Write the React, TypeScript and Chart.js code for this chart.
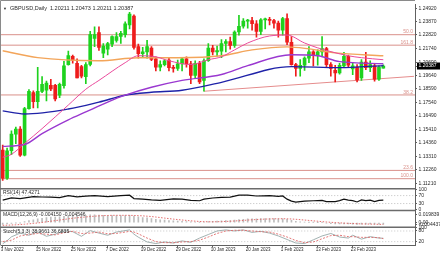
import React, { useEffect, useRef } from 'react';
import { Chart, registerables } from 'chart.js';

Chart.register(...registerables);

// ---------- data ----------
const DATES = ['3 Nov 2022','4 Nov 2022','7 Nov 2022','8 Nov 2022','9 Nov 2022','10 Nov 2022','11 Nov 2022','14 Nov 2022','15 Nov 2022','16 Nov 2022','17 Nov 2022','18 Nov 2022','21 Nov 2022','22 Nov 2022','23 Nov 2022','24 Nov 2022','25 Nov 2022','28 Nov 2022','29 Nov 2022','30 Nov 2022','1 Dec 2022','2 Dec 2022','5 Dec 2022','6 Dec 2022','7 Dec 2022','8 Dec 2022','9 Dec 2022','12 Dec 2022','13 Dec 2022','14 Dec 2022','15 Dec 2022','16 Dec 2022','19 Dec 2022','20 Dec 2022','21 Dec 2022','22 Dec 2022','23 Dec 2022','26 Dec 2022','27 Dec 2022','28 Dec 2022','29 Dec 2022','30 Dec 2022','2 Jan 2023','3 Jan 2023','4 Jan 2023','5 Jan 2023','6 Jan 2023','9 Jan 2023','10 Jan 2023','11 Jan 2023','12 Jan 2023','13 Jan 2023','16 Jan 2023','17 Jan 2023','18 Jan 2023','19 Jan 2023','20 Jan 2023','23 Jan 2023','24 Jan 2023','25 Jan 2023','26 Jan 2023','27 Jan 2023','30 Jan 2023','31 Jan 2023','1 Feb 2023','2 Feb 2023','3 Feb 2023','6 Feb 2023','7 Feb 2023','8 Feb 2023','9 Feb 2023','10 Feb 2023','13 Feb 2023','14 Feb 2023','15 Feb 2023','16 Feb 2023','17 Feb 2023','20 Feb 2023','21 Feb 2023','22 Feb 2023','23 Feb 2023','24 Feb 2023','27 Feb 2023','28 Feb 2023','1 Mar 2023','2 Mar 2023','3 Mar 2023','6 Mar 2023'];

const OPEN = [1.1380,1.1160,1.1375,1.1505,1.1545,1.1340,1.1705,1.1830,1.1760,1.1840,
  1.1850,1.1888,1.1888,1.1810,1.1885,1.2050,1.2115,1.2060,1.2035,1.1955,
  1.2052,1.2255,1.2300,1.2140,1.2170,1.2210,1.2240,1.2270,1.2285,1.2360,
  1.2430,1.2190,1.2135,1.2150,1.2180,1.2095,1.2030,1.2050,1.2085,1.2025,
  1.2020,1.2055,1.2095,1.2055,1.1965,1.2060,1.1925,1.2080,1.2180,1.2150,
  1.2155,1.2215,1.2230,1.2200,1.2305,1.2350,1.2390,1.2395,1.2370,1.2310,
  1.2400,1.2405,1.2395,1.2375,1.2320,1.2410,1.2225,1.2050,1.2020,1.2045,
  1.2100,1.2150,1.2120,1.2150,1.2175,1.2050,1.2005,1.1985,1.2040,1.2115,
  1.2015,1.2030,1.1945,1.2070,1.2025,1.2040,1.1935,1.20211];
const HIGH = [1.1420,1.1395,1.1530,1.1560,1.1565,1.1715,1.1855,1.1845,1.2028,1.1955,
  1.1920,1.1935,1.1895,1.1905,1.2075,1.2155,1.2125,1.2095,1.2045,1.2065,
  1.2310,1.2345,1.2345,1.2215,1.2225,1.2275,1.2300,1.2310,1.2385,1.2460,
  1.2440,1.2210,1.2185,1.2240,1.2190,1.2110,1.2080,1.2090,1.2100,1.2045,
  1.2085,1.2105,1.2110,1.2075,1.2080,1.2075,1.2095,1.2215,1.2200,1.2195,
  1.2245,1.2245,1.2265,1.2315,1.2435,1.2410,1.2405,1.2420,1.2395,1.2410,
  1.2415,1.2420,1.2405,1.2390,1.2420,1.2448,1.2270,1.2060,1.2090,1.2110,
  1.2190,1.2160,1.2165,1.2270,1.2185,1.2065,1.2045,1.2060,1.2145,1.2125,
  1.2065,1.2050,1.2090,1.2145,1.2080,1.2060,1.2040,1.20473];
const LOW = [1.1142,1.1150,1.1345,1.1430,1.1330,1.1335,1.1700,1.1710,1.1710,1.1830,
  1.1765,1.1845,1.1765,1.1790,1.1865,1.2045,1.2060,1.1945,1.1945,1.1900,
  1.2040,1.2190,1.2160,1.2105,1.2125,1.2190,1.2225,1.2215,1.2265,1.2330,
  1.2170,1.2100,1.2110,1.2100,1.2080,1.2000,1.2000,1.2040,1.2000,1.1990,
  1.2005,1.2000,1.2030,1.1900,1.1940,1.1900,1.1841,1.2075,1.2125,1.2115,
  1.2105,1.2150,1.2170,1.2185,1.2280,1.2335,1.2335,1.2320,1.2265,1.2285,
  1.2330,1.2360,1.2335,1.2265,1.2280,1.2205,1.2045,1.1960,1.1960,1.2005,
  1.2065,1.2040,1.2045,1.2120,1.2030,1.1960,1.1915,1.1975,1.2030,1.2030,
  1.1970,1.1915,1.1925,1.2010,1.1995,1.1920,1.1925,1.20211];
const CLOSE = [1.1160,1.1375,1.1505,1.1545,1.1340,1.1705,1.1840,1.1760,1.1840,1.1895,
  1.1905,1.1860,1.1780,1.1895,1.2040,1.2120,1.2085,1.1945,1.1960,1.2050,
  1.2285,1.2285,1.2185,1.2195,1.2215,1.2270,1.2270,1.2295,1.2370,1.2445,
  1.2185,1.2135,1.2150,1.2190,1.2090,1.2030,1.2050,1.2080,1.2025,1.2020,
  1.2055,1.2095,1.2055,1.1965,1.2060,1.1915,1.2080,1.2180,1.2150,1.2160,
  1.2215,1.2230,1.2200,1.2305,1.2350,1.2390,1.2395,1.2370,1.2310,1.2400,
  1.2405,1.2395,1.2375,1.2320,1.2410,1.2225,1.2050,1.2020,1.2045,1.2100,
  1.2150,1.2120,1.2150,1.2175,1.2050,1.2020,1.1985,1.2045,1.2115,1.2045,
  1.2040,1.1930,1.2070,1.2025,1.2050,1.1935,1.2030,1.20387];

const LAST_PRICE = 1.20387;
const PRICE_TICKS = [1.2492,1.2387,1.2282,1.2174,1.2069,1.1964,1.1859,1.1754,1.1649,1.1541,1.1436,1.1331,1.1226,1.1121];
const DATE_TICKS = [0,8,16,24,32,40,48,56,64,72,80];

// moving averages: [bar index, price]
const MA_PINK = [[0,1.1324],[2,1.1347],[5,1.1432],[9,1.1548],[15,1.1733],[19,1.1857],[22,1.1926],[28,1.2065],[31,1.2119],[35,1.2111],[38,1.2080],[43,1.2050],[47,1.2088],[50,1.2111],[53,1.2165],[56,1.2219],[61,1.2274],[65,1.2281],[69,1.2219],[72,1.2181],[79,1.2119],[82,1.2104],[87,1.2088]];
const MA_PURPLE = [[0,1.1409],[5,1.1424],[9,1.1509],[15,1.1617],[19,1.1679],[24,1.1756],[28,1.1810],[34,1.1872],[41,1.1926],[50,1.1972],[56,1.2042],[66,1.2127],[72,1.2119],[77,1.2073],[87,1.2057]];
const MA_BLUE = [[0,1.1687],[5,1.1663],[15,1.1702],[22,1.1756],[28,1.1810],[34,1.1833],[41,1.1849],[50,1.1911],[66,1.2034],[77,1.2026],[87,1.2042]];
const MA_ORANGE = [[0,1.2158],[8,1.2104],[22,1.2080],[31,1.2104],[40,1.2104],[50,1.2119],[57,1.2165],[65,1.2189],[70,1.2173],[76,1.2142],[87,1.2119]];

const FIB_LEVELS = [1.2284,1.2202,1.1812,1.1221,1.1156];
const FIB_LABELS = ['50.0','161.8','38.2','23.6','100.0'];
const TREND_LINE = [[46,1.1841],[94,1.1958]];

const RSI_VALUES = [[0,47],[2,58],[4,55],[7,65],[9,63],[11,62],[13,60],[15,70],[17,64],[19,67],[21,70],[24,65],[27,70],[29,72],[30,55],[32,52],[34,48],[36,46],[39,53],[41,52],[43,46],[45,44],[46,52],[48,58],[50,61],[52,62],[54,72],[56,72],[58,68],[61,70],[63,66],[64,68],[65,52],[66,42],[67,37],[69,42],[71,44],[73,46],[74,40],[76,40],[77,45],[78,52],[79,47],[80,45],[81,38],[82,48],[83,45],[84,47],[85,40],[86,46],[87,47.43]];
const RSI_TICKS = [100,70,30,0];
const RSI_LEVELS = [70,30];

const MACD_HIST = [-0.0045,-0.0035,-0.0020,-0.0005,-0.0003,0.0025,0.0050,0.0070,0.0095,0.0110,
  0.0125,0.0137,0.0140,0.0145,0.0160,0.0175,0.0185,0.0180,0.0178,0.0180,
  0.0195,0.0198,0.0193,0.0185,0.0180,0.0178,0.0177,0.0175,0.0178,0.0183,
  0.0163,0.0145,0.0130,0.0118,0.0102,0.0085,0.0073,0.0065,0.0053,0.0043,
  0.0037,0.0035,0.0029,0.0017,0.0015,0.0004,0.0012,0.0025,0.0032,0.0036,
  0.0044,0.0051,0.0053,0.0063,0.0074,0.0085,0.0093,0.0096,0.0094,0.0099,
  0.0102,0.0102,0.0101,0.0094,0.0097,0.0083,0.0058,0.0035,0.0019,0.0010,
  0.0006,0.0002,0.0001,0.0000,-0.0012,-0.0024,-0.0030,-0.0033,-0.0030,-0.0033,
  -0.0036,-0.0045,-0.0038,-0.0036,-0.0033,-0.0040,-0.0041,-0.00415];
const MACD_SIGNAL = [-0.0068,-0.0065,-0.0060,-0.0055,-0.0048,-0.0040,-0.0030,-0.0020,-0.0008,0.0005,
  0.0020,0.0035,0.0050,0.0065,0.0080,0.0095,0.0110,0.0122,0.0133,0.0143,
  0.0153,0.0162,0.0170,0.0176,0.0180,0.0183,0.0184,0.0184,0.0184,0.0183,
  0.0180,0.0176,0.0170,0.0162,0.0153,0.0141,0.0128,0.0114,0.0101,0.0088,
  0.0077,0.0066,0.0056,0.0045,0.0037,0.0029,0.0024,0.0021,0.0020,0.0022,
  0.0025,0.0030,0.0035,0.0041,0.0048,0.0056,0.0064,0.0071,0.0078,0.0084,
  0.0089,0.0093,0.0096,0.0097,0.0098,0.0096,0.0091,0.0084,0.0075,0.0065,
  0.0055,0.0045,0.0035,0.0025,0.0016,0.0008,0.0001,-0.0006,-0.0012,-0.0018,
  -0.0023,-0.0028,-0.0032,-0.0035,-0.0037,-0.0040,-0.0043,-0.004546];
const MACD_TICKS = [0.019839,0,-0.004437];
const MACD_TICK_LABELS = ['0.019839','0.00','-0.004437'];

const STOCH_MAIN = [[0,8],[1,25],[2,47],[4,68],[6,56],[8,75],[10,50],[12,62],[14,80],[16,76],[18,50],[20,82],[22,68],[24,56],[26,74],[29,86],[30,62],[31,45],[33,18],[35,9],[37,18],[39,12],[41,24],[43,16],[45,40],[47,60],[49,80],[51,86],[53,80],[55,86],[57,72],[59,78],[61,68],[63,52],[65,32],[67,12],[69,9],[71,30],[73,52],[75,66],[77,46],[79,40],[80,56],[82,34],[84,48],[86,40],[87,38.97]];
const STOCH_SIGNAL = [[0,20],[2,28],[4,52],[6,60],[8,66],[10,62],[12,58],[14,70],[16,78],[18,66],[20,68],[22,74],[24,64],[26,66],[29,78],[30,74],[31,64],[33,40],[35,20],[37,14],[39,14],[41,18],[43,20],[45,28],[47,46],[49,66],[51,80],[53,84],[55,84],[57,80],[59,76],[61,74],[63,62],[65,46],[67,26],[69,14],[71,18],[73,36],[75,54],[77,56],[79,48],[80,48],[82,44],[84,44],[86,42],[87,36.68]];
const STOCH_TICKS = [100,80,20];
const STOCH_LEVELS = [80,20];

const HEADER_TEXT = 'GBPUSD,Daily  1.20211 1.20473 1.20211 1.20387';
const RSI_TEXT = 'RSI(14) 47.4271';
const MACD_TEXT = 'MACD(12,26,9) -0.004150 -0.004546';
const STOCH_TEXT = 'Stoch(5,3,3) 38.9661 36.6835';

// ---------- styling ----------
const FONT = '"Liberation Sans", Arial, sans-serif';
const GREEN = '#1ed21e';
const RED = '#ee1c1c';
const FIB_COLOR = '#d9908a';
const TEXT = '#2a2a2a';
const AXIS = '#606060';
const X_MIN = -0.389;
const X_MAX = 94.24;

const pts = (arr: number[][]) => arr.map(([x, y]) => ({ x, y }));
const hline = (v: number) => [{ x: X_MIN - 2, y: v }, { x: X_MAX + 2, y: v }];
const candleColors = CLOSE.map((c, i) => (c >= OPEN[i] ? GREEN : RED));

const lineDs = (data: any, color: string, yAxisID: string, width = 1, extra: any = {}) => ({
  type: 'line', data, borderColor: color, borderWidth: width, pointRadius: 0,
  fill: false, yAxisID, xAxisID: 'x', order: 2, ...extra,
});

const decor = {
  id: 'decor',
  afterDraw(chart: any) {
    const { ctx, chartArea, scales } = chart;
    ctx.save();
    ctx.strokeStyle = '#8a8a8a';
    ctx.lineWidth = 1;
    ctx.beginPath();
    ctx.moveTo(0.5, scales.yStoch.bottom);
    ctx.lineTo(0.5, 0.5);
    ctx.lineTo(chartArea.right, 0.5);
    ctx.stroke();
    ctx.strokeStyle = '#6b6b6b';
    ctx.lineWidth = 1.6;
    for (const id of ['yRsi', 'yMacd', 'yStoch']) {
      const t = scales[id].top;
      ctx.beginPath();
      ctx.moveTo(chartArea.left - 1, t);
      ctx.lineTo(chartArea.right, t);
      ctx.stroke();
    }
    ctx.fillStyle = TEXT;
    ctx.textBaseline = 'middle';
    ctx.textAlign = 'left';
    ctx.font = `4px ${FONT}`;
    ctx.fillText('\u25BC', 3, scales.y.top + 4);
    ctx.font = `5.5px ${FONT}`;
    ctx.fillText(HEADER_TEXT, 10, scales.y.top + 4);
    ctx.font = `5px ${FONT}`;
    ctx.fillText(RSI_TEXT, 3, scales.yRsi.top + 4);
    ctx.fillText(MACD_TEXT, 3, scales.yMacd.top + 4);
    ctx.fillText(STOCH_TEXT, 3, scales.yStoch.top + 4);
    ctx.fillStyle = FIB_COLOR;
    ctx.textAlign = 'right';
    ctx.textBaseline = 'bottom';
    ctx.font = `5px ${FONT}`;
    FIB_LEVELS.forEach((lv, i) => {
      ctx.fillText(FIB_LABELS[i], chartArea.right - 2, scales.y.getPixelForValue(lv) - 0.3);
    });
    ctx.restore();
  },
};

const yCommon = (weight: number, min: number, max: number, ticks: number[], cb: any) => ({
  type: 'linear', position: 'right', stack: 'panels', stackWeight: weight, min, max,
  afterBuildTicks: (s: any) => { s.ticks = ticks.map((v) => ({ value: v })); },
  afterFit: (s: any) => { s.width = 25; },
  grid: { drawOnChartArea: false, tickLength: 2, color: AXIS },
  border: { color: AXIS, width: 1 },
  ticks: { autoSkip: false, padding: 1.5, font: { size: 5, family: FONT }, color: TEXT, callback: cb },
});

export default function App() {
  const ref = useRef<HTMLCanvasElement>(null);
  useEffect(() => {
    document.body.style.margin = '0';
    const priceScale: any = yCommon(187, 1.10766, 1.25206, [...PRICE_TICKS, LAST_PRICE], (v: number) => Number(v).toFixed(5));
    priceScale.ticks.color = (c: any) => (c.tick && c.tick.value === LAST_PRICE ? '#ffffff' : TEXT);
    priceScale.ticks.showLabelBackdrop = (c: any) => !!(c.tick && c.tick.value === LAST_PRICE);
    priceScale.ticks.backdropColor = (c: any) => (c.tick && c.tick.value === LAST_PRICE ? '#000000' : 'rgba(0,0,0,0)');
    priceScale.ticks.backdropPadding = { top: 0.5, bottom: 0.5, left: 1.5, right: 4 };

    const datasets: any[] = [
      ...FIB_LEVELS.map((lv) => lineDs(hline(lv), FIB_COLOR, 'y', 1, { order: 10 })),
      lineDs(pts(TREND_LINE), '#e58c8c', 'y', 1, { order: 10 }),
      {
        type: 'bar', data: LOW.map((l, i) => ({ x: i, y: [l, HIGH[i]] })),
        backgroundColor: candleColors, barThickness: 1, grouped: false, yAxisID: 'y', xAxisID: 'x', order: 8,
      },
      {
        type: 'bar', data: OPEN.map((o, i) => ({ x: i, y: [o, CLOSE[i]] })),
        backgroundColor: candleColors, barThickness: 3, minBarLength: 1, grouped: false, yAxisID: 'y', xAxisID: 'x', order: 7,
      },
      lineDs(pts(MA_ORANGE), '#f3a55a', 'y', 1.4, { cubicInterpolationMode: 'monotone', order: 4 }),
      lineDs(pts(MA_BLUE), '#1f22a8', 'y', 1.4, { cubicInterpolationMode: 'monotone', order: 3 }),
      lineDs(pts(MA_PURPLE), '#9a38d0', 'y', 1.4, { cubicInterpolationMode: 'monotone', order: 2 }),
      lineDs(pts(MA_PINK), '#ea4a9c', 'y', 1, { cubicInterpolationMode: 'monotone', order: 1 }),
      ...RSI_LEVELS.map((lv) => lineDs(hline(lv), '#b0b0b0', 'yRsi', 0.8, { borderDash: [1, 2], order: 5 })),
      lineDs(pts(RSI_VALUES), '#111111', 'yRsi', 1.2, { order: 1 }),
      {
        type: 'bar', data: MACD_HIST.map((v, i) => ({ x: i, y: v })),
        backgroundColor: '#bdbdbd', barThickness: 1, grouped: false, yAxisID: 'yMacd', xAxisID: 'x', order: 6,
      },
      lineDs(MACD_SIGNAL.map((v, i) => ({ x: i, y: v })), '#e06060', 'yMacd', 0.9, { borderDash: [1.5, 1.5], order: 1 }),
      ...STOCH_LEVELS.map((lv) => lineDs(hline(lv), '#b8b8b8', 'yStoch', 0.8, { borderDash: [1, 2], order: 5 })),
      lineDs(pts(STOCH_MAIN), '#97a9a9', 'yStoch', 0.9, { order: 2 }),
      lineDs(pts(STOCH_SIGNAL), '#e06a6a', 'yStoch', 0.9, { borderDash: [2, 1.5], order: 1 }),
    ];

    const chart = new Chart(ref.current as HTMLCanvasElement, {
      type: 'bar',
      data: { datasets },
      options: {
        animation: false,
        responsive: false,
        devicePixelRatio: 1,
        events: [],
        layout: { padding: { left: 1, top: 1, right: 0, bottom: 0 } },
        plugins: { legend: { display: false }, tooltip: { enabled: false } },
        scales: {
          x: {
            type: 'linear', position: 'bottom', min: X_MIN, max: X_MAX, offset: false,
            afterBuildTicks: (s: any) => { s.ticks = DATE_TICKS.map((v) => ({ value: v })); },
            afterFit: (s: any) => { s.height = 8.5; },
            grid: { drawOnChartArea: false, tickLength: 2, color: AXIS, offset: false },
            border: { color: AXIS, width: 1 },
            ticks: {
              autoSkip: false, maxRotation: 0, minRotation: 0, align: 'start', padding: 0, labelOffset: -2,
              font: { size: 4.5, family: FONT }, color: TEXT,
              callback: (v: any) => DATES[Number(v)] ?? '',
            },
          },
          y: priceScale,
          yRsi: yCommon(22, -5, 104, RSI_TICKS, (v: number) => String(v)),
          yMacd: yCommon(17, -0.0117, 0.0305, MACD_TICKS, (_v: number, i: number) => MACD_TICK_LABELS[i]),
          yStoch: yCommon(18.5, -2, 101, STOCH_TICKS, (v: number) => String(v)),
        },
      } as any,
      plugins: [decor],
    } as any);
    return () => chart.destroy();
  }, []);
  return (
    <canvas ref={ref} width={440} height={254} style={{ display: 'block', width: '440px', height: '254px' }} />
  );
}
